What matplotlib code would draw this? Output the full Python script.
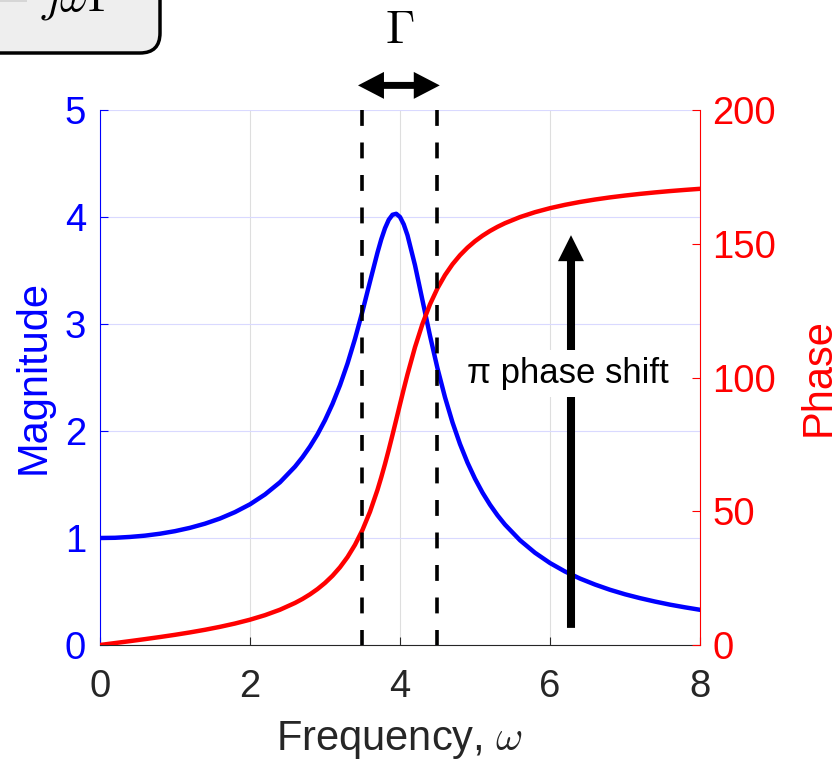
import matplotlib
matplotlib.use("Agg")
import matplotlib.pyplot as plt
from matplotlib.patches import FancyArrowPatch, FancyBboxPatch, Rectangle

plt.rcParams["font.family"] = ["Liberation Sans", "DejaVu Sans"]
plt.rcParams["mathtext.fontset"] = "cm"

# values
omega = [0.0, 0.2, 0.4, 0.6, 0.8, 1.0, 1.2, 1.4, 1.6, 1.8, 2.0, 2.2, 2.4, 2.6,
         2.7, 2.8, 2.9, 3.0, 3.1, 3.2, 3.3, 3.4, 3.5, 3.6, 3.7,
         3.75, 3.8, 3.85, 3.9, 3.95, 4.0, 4.05,
         4.1, 4.2, 4.3, 4.4, 4.5, 4.6, 4.7, 4.8, 4.9, 5.0, 5.1, 5.2, 5.3, 5.4,
         5.6, 5.8, 6.0, 6.2, 6.4, 6.6, 6.8, 7.0, 7.2, 7.4, 7.6, 7.8, 8.0]
magnitude = [1.000, 1.002, 1.010, 1.022, 1.040, 1.064, 1.095, 1.134, 1.182, 1.242, 1.315, 1.407, 1.521, 1.667,
             1.755, 1.855, 1.969, 2.101, 2.253, 2.428, 2.630, 2.861, 3.119, 3.396, 3.668,
             3.791, 3.895, 3.974, 4.021, 4.030, 4.000, 3.931,
             3.829, 3.549, 3.220, 2.890, 2.585, 2.315, 2.080, 1.878, 1.704, 1.554, 1.424, 1.311, 1.212, 1.125,
             0.979, 0.862, 0.766, 0.687, 0.621, 0.565, 0.516, 0.474, 0.438, 0.406, 0.377, 0.352, 0.329]
phase = [0.0, 0.72, 1.45, 2.20, 2.98, 3.81, 4.71, 5.69, 6.79, 8.03, 9.46, 11.15, 13.19, 15.72,
         17.22, 18.94, 20.91, 23.20, 25.88, 29.06, 32.86, 37.45, 43.03, 49.82, 58.02,
         62.68, 67.67, 72.99, 78.55, 84.25, 90.0, 95.68,
         101.18, 111.33, 120.08, 127.37, 133.36, 138.28, 142.34, 145.71, 148.54, 150.95, 153.00, 154.78, 156.33, 157.69,
         159.97, 161.80, 163.30, 164.55, 165.62, 166.53, 167.33, 168.02, 168.64, 169.19, 169.69, 170.13, 170.54]

x_ticks = [0, 2, 4, 6, 8]
mag_ticks = [0, 1, 2, 3, 4, 5]
phase_ticks = [0, 50, 100, 150, 200]

gamma_band = [3.5, 4.5]          # dashed half-width lines
gamma_arrow = [3.44, 4.0, 4.53]  # left tip, centre, right tip
gamma_arrow_y = 5.23
shift_x = 6.28
shift_y = [0.16, 3.83]           # arrow tail / tip (magnitude units)
shift_label_pos = (6.24, 2.45)

BLUE = "#0000ff"
RED = "#ff0000"
DARK = "#262626"

fig = plt.figure(figsize=(8.33, 7.61), dpi=100)
ax = fig.add_axes([100 / 833, 116 / 761, 600 / 833, 535 / 761])
ax2 = ax.twinx()

ax.plot(omega, magnitude, color=BLUE, lw=3.2, solid_joinstyle="round", zorder=3)
ax2.plot(omega, phase, color=RED, lw=3.2, solid_joinstyle="round", zorder=3)

ax.set_xlim(0, 8)
ax.set_ylim(0, 5)
ax2.set_ylim(0, 200)
ax.set_xticks(x_ticks)
ax.set_yticks(mag_ticks)
ax2.set_yticks(phase_ticks)

ax.xaxis.grid(True, color="#dedede", lw=0.8)
ax.yaxis.grid(True, color="#d9d9ff", lw=0.8)
ax.set_axisbelow(True)

for s in ["top", "right"]:
    ax.spines[s].set_visible(False)
for s in ["top", "left", "bottom"]:
    ax2.spines[s].set_visible(False)
ax.spines["left"].set_color(BLUE)
ax.spines["bottom"].set_color(DARK)
ax2.spines["right"].set_color(RED)
for sp in [ax.spines["left"], ax.spines["bottom"], ax2.spines["right"]]:
    sp.set_linewidth(0.8)

ax.tick_params(axis="x", direction="in", length=6, width=0.8, colors=DARK, labelsize=27.5, pad=17)
ax.tick_params(axis="y", direction="in", length=6, width=0.8, colors=BLUE, labelsize=27.5, pad=10)
ax2.tick_params(axis="y", direction="in", length=6, width=0.8, colors=RED, labelsize=27.5, pad=9)

# gamma band
ax2.vlines(gamma_band, 200, 0, colors="black", lw=2.6, linestyles=[(0, (4.4, 4.6))], zorder=4)

def solid_arrow(a, start, end, tail, head_w, head_l):
    arr = FancyArrowPatch(start, end, transform=a.transData,
                          arrowstyle=f"simple,head_length={head_l},head_width={head_w},tail_width={tail}",
                          mutation_scale=10, shrinkA=0, shrinkB=0,
                          facecolor="black", edgecolor="none", lw=0, clip_on=False, zorder=5)
    a.add_patch(arr)

solid_arrow(ax, (gamma_arrow[1], gamma_arrow_y), (gamma_arrow[0], gamma_arrow_y), 0.5, 1.94, 1.87)
solid_arrow(ax, (gamma_arrow[1], gamma_arrow_y), (gamma_arrow[2], gamma_arrow_y), 0.5, 1.94, 1.87)
solid_arrow(ax, (shift_x, shift_y[0]), (shift_x, shift_y[1]), 0.58, 1.87, 1.87)

ax.text(shift_label_pos[0], shift_label_pos[1], "π phase shift", fontsize=25, ha="center",
        va="baseline", color="black", zorder=6,
        bbox=dict(facecolor="white", edgecolor="none", pad=5))

# labels
fig.text(400 / 833, 1 - 750 / 761, r"Frequency, $\omega$", fontsize=30, color=DARK,
         ha="center", va="baseline")
fig.text(45 / 833, 1 - 377 / 761, "Magnitude", fontsize=30, color=BLUE, rotation=90,
         rotation_mode="anchor", ha="center", va="baseline")
fig.text(830 / 833, 1 - 377 / 761, "Phase", fontsize=30, color=RED, rotation=90,
         rotation_mode="anchor", ha="center", va="baseline")
fig.text(400 / 833, 1 - 43 / 761, r"$\Gamma$", fontsize=34, ha="center", va="baseline")

# cropped equation box in the top-left corner
box = FancyBboxPatch((-0.4, 7.08), 2.0, 0.92, boxstyle="round,pad=0,rounding_size=0.2",
                     transform=fig.dpi_scale_trans, facecolor="#eeeeee", edgecolor="black",
                     lw=2.5, clip_on=False)
fig.patches.append(box)
fig.patches.append(Rectangle((0, 7.59), 0.27, 0.05, transform=fig.dpi_scale_trans,
                             facecolor="#d6d6d6", edgecolor="none"))
fig.text(78 / 833, 1 - 11 / 761, r"$j\omega\Gamma$", fontsize=32, ha="center", va="baseline")

fig.savefig("out.png", dpi=100)
